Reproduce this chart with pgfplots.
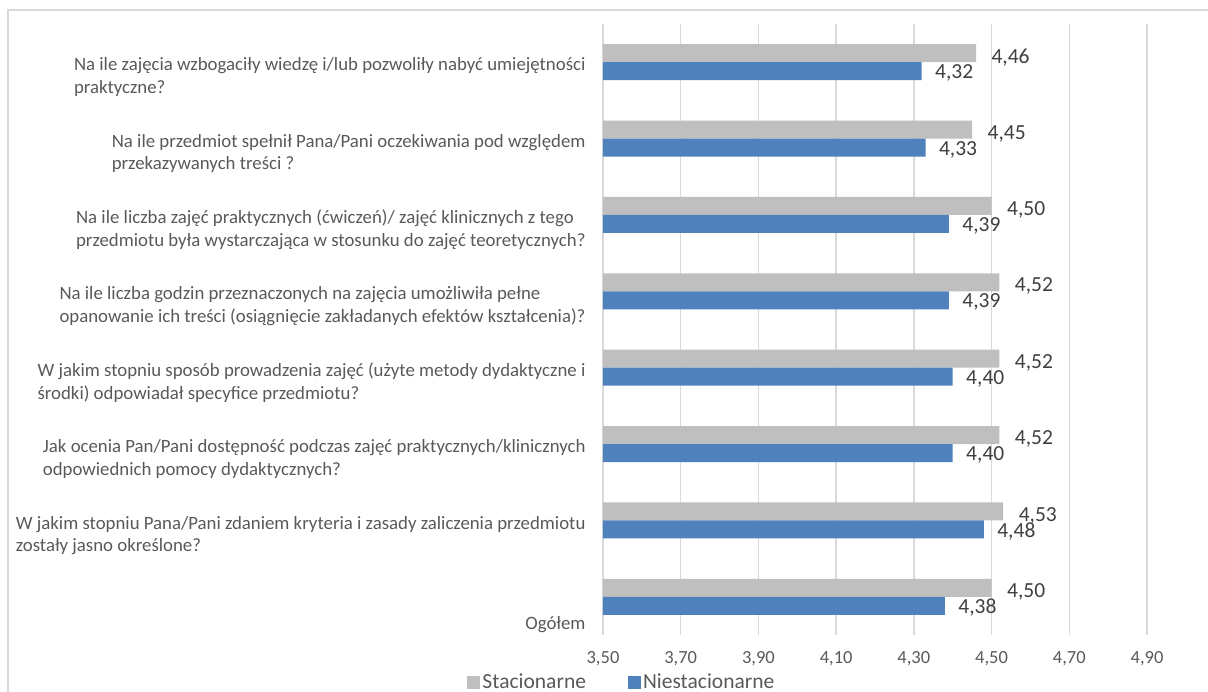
\documentclass[border=0pt]{standalone}
\usepackage{fontspec}
\setmainfont{Carlito}
\usepackage{pgfplots}
\pgfplotsset{compat=1.18}
\definecolor{cgray}{HTML}{BFBFBF}
\definecolor{cblue}{HTML}{4F81BD}
\definecolor{cgrid}{HTML}{D9D9D9}
\definecolor{ctext}{HTML}{595959}
\definecolor{clab}{HTML}{404040}
\begin{document}
\begin{tikzpicture}
\path[use as bounding box] (-603pt,-57pt) rectangle (605pt,635pt);
\draw[cgrid, line width=1.5pt] (-595pt,-120pt) -- (-595pt,625pt) -- (700pt,625pt);
\begin{axis}[
  scale only axis, width=544pt, height=611pt,
  at={(0pt,0pt)}, anchor=south west,
  xbar, bar width=18pt,
  xmin=3.5, xmax=4.9, ymin=-0.5, ymax=7.5,
  axis line style={draw=none},
  major tick length=0pt,
  xmajorgrids, grid style={cgrid, line width=1.4pt},
  xtick={3.5,3.7,3.9,4.1,4.3,4.5,4.7,4.9},
  xticklabels={{3,50},{3,70},{3,90},{4,10},{4,30},{4,50},{4,70},{4,90}},
  xticklabel style={font=\fontsize{18.5}{22}\selectfont, text=ctext, yshift=-13pt},
  ytick={0,1,2,3,4,5,6,7},
  yticklabels={
    {\strut\\Ogółem},
    {W jakim stopniu Pana/Pani zdaniem kryteria i zasady zaliczenia przedmiotu\\zostały jasno określone?},
    {Jak ocenia Pan/Pani dostępność podczas zajęć praktycznych/klinicznych\\odpowiednich pomocy dydaktycznych?},
    {W jakim stopniu sposób prowadzenia zajęć (użyte metody dydaktyczne i\\środki) odpowiadał specyfice przedmiotu?},
    {Na ile liczba godzin przeznaczonych na zajęcia umożliwiła pełne\\opanowanie ich treści (osiągnięcie zakładanych efektów kształcenia)?},
    {Na ile liczba zajęć praktycznych (ćwiczeń)/ zajęć klinicznych z tego\\przedmiotu była wystarczająca w stosunku do zajęć teoretycznych?},
    {Na ile przedmiot spełnił Pana/Pani oczekiwania pod względem\\przekazywanych treści ?},
    {Na ile zajęcia wzbogaciły wiedzę i/lub pozwoliły nabyć umiejętności\\praktyczne?}
  },
  yticklabel style={font=\fontsize{18.8}{22.5}\selectfont, text=ctext, align=left, anchor=east, xshift=-14pt, yshift=-15pt},
  point meta=x,
  nodes near coords={\pgfmathprintnumber[fixed,fixed zerofill,precision=2,use comma,assume math mode=true]{\pgfplotspointmeta}},
  nodes near coords style={font=\fontsize{21.5}{25}\selectfont, text=clab, anchor=west},
  legend columns=2,
  legend style={draw=none, fill=none, font=\fontsize{21.5}{25}\selectfont, text=ctext,
    at={(rel axis cs:-0.255,-0.077)}, anchor=west,
    /tikz/every even column/.append style={column sep=40pt}},
  legend image code/.code={\fill[#1,draw=none] (0pt,-6.5pt) rectangle (13pt,6.5pt);},
]
\addplot[draw=none, fill=cgray, bar shift=9pt,
  every node near coord/.append style={xshift=12pt, yshift=-4pt}]
  coordinates {(4.50,0) (4.53,1) (4.52,2) (4.52,3) (4.52,4) (4.50,5) (4.45,6) (4.46,7)};
\addplot[draw=none, fill=cblue, bar shift=-9pt,
  every node near coord/.append style={xshift=10pt, yshift=-2pt}]
  coordinates {(4.38,0) (4.48,1) (4.40,2) (4.40,3) (4.39,4) (4.39,5) (4.33,6) (4.32,7)};
\legend{Stacionarne,Niestacionarne}
\end{axis}
\end{tikzpicture}
\end{document}
